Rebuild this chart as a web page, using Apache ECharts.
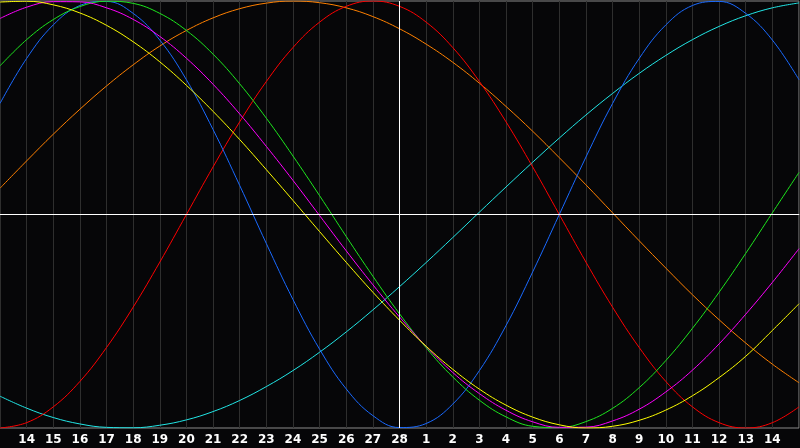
<!DOCTYPE html>
<html>
<head>
<meta charset="utf-8">
<script src="https://cdn.jsdelivr.net/npm/echarts@6/dist/echarts.min.js"></script>
<style>
html,body{margin:0;padding:0;background:#060608;}
#chart{width:800px;height:448px;}
</style>
</head>
<body>
<div id="chart"></div>
<script>
// Day labels (t = 0..30); first and last lie on the chart edges and are not shown
const days = ['13','14','15','16','17','18','19','20','21','22','23','24','25','26','27','28',
              '1','2','3','4','5','6','7','8','9','10','11','12','13','14','15'];
const todayLabelIndex = 15; // "28"

// Cycle values read at each day
const physical = [0.520,0.731,0.888,0.979,0.998,0.942,0.817,0.631,0.398,0.136,-0.136,-0.398,-0.631,-0.817,-0.942,-0.998,-0.979,-0.888,-0.731,-0.520,-0.269,0.000,0.269,0.520,0.731,0.888,0.979,0.998,0.942,0.817,0.631];
const emotional = [-1,-0.975,-0.901,-0.782,-0.623,-0.434,-0.223,0,0.223,0.434,0.623,0.782,0.901,0.975,1,0.975,0.901,0.782,0.623,0.434,0.223,0,-0.223,-0.434,-0.623,-0.782,-0.901,-0.975,-1,-0.975,-0.901];
const intellectual = [0.696,0.819,0.913,0.974,0.999,0.989,0.942,0.862,0.751,0.612,0.451,0.274,0.088,-0.103,-0.289,-0.465,-0.624,-0.761,-0.870,-0.948,-0.992,-0.998,-0.970,-0.908,-0.811,-0.684,-0.533,-0.364,-0.182,0.008,0.197];
const intuitive = [0.918,0.971,0.997,0.996,0.968,0.914,0.834,0.732,0.610,0.471,0.319,0.160,-0.005,-0.170,-0.329,-0.480,-0.618,-0.740,-0.839,-0.917,-0.971,-0.997,-0.996,-0.967,-0.912,-0.831,-0.729,-0.606,-0.467,-0.318,-0.160];
const aesthetic = [0.995,0.999,0.982,0.944,0.886,0.809,0.715,0.605,0.483,0.351,0.210,0.066,-0.080,-0.224,-0.364,-0.495,-0.617,-0.725,-0.818,-0.893,-0.949,-0.985,-1.000,-0.992,-0.964,-0.916,-0.849,-0.764,-0.664,-0.543,-0.418];
const awareness = [0.123,0.251,0.376,0.493,0.602,0.701,0.789,0.862,0.921,0.964,0.990,1.000,0.992,0.968,0.927,0.870,0.798,0.713,0.615,0.506,0.390,0.266,0.139,0.008,-0.123,-0.251,-0.376,-0.493,-0.602,-0.701,-0.788];
const spiritual = [-0.851,-0.907,-0.951,-0.981,-0.997,-0.999,-0.987,-0.962,-0.923,-0.871,-0.806,-0.731,-0.645,-0.550,-0.447,-0.338,-0.225,-0.108,0.011,0.129,0.245,0.358,0.466,0.567,0.661,0.745,0.819,0.881,0.931,0.968,0.991];

const seriesDefs = [
  {name:'Spiritual', data:spiritual, color:'#22e6e6'},
  {name:'Awareness', data:awareness, color:'#ff8000'},
  {name:'Emotional', data:emotional, color:'#ff0000'},
  {name:'Physical', data:physical, color:'#1a6aff'},
  {name:'Intellectual', data:intellectual, color:'#1ee61e'},
  {name:'Intuitive', data:intuitive, color:'#ff00ff'},
  {name:'Aesthetic', data:aesthetic, color:'#ffff00'}
];

const chart = echarts.init(document.getElementById('chart'), null, {renderer:'canvas'});
const series = seriesDefs.map((s, i) => ({
  name: s.name,
  type: 'line',
  data: s.data,
  smooth: 0.4,
  symbol: 'none',
  lineStyle: {color: s.color, width: 1},
  z: 3,
  silent: true
}));
series.push({
  type: 'line',
  data: [],
  silent: true,
  z: 2,
  markLine: {
    silent: true,
    symbol: ['none','none'],
    label: {show:false},
    lineStyle: {color:'#ffffff', width:1, type:'solid'},
    data: [{xAxis: todayLabelIndex}, {yAxis: 0}]
  }
});

chart.setOption({
  backgroundColor: '#060608',
  animation: false,
  grid: {left: 0, right: 1, top: 1, bottom: 20, show: true, borderColor: '#8a8a8a', borderWidth: 1, backgroundColor: 'transparent'},
  xAxis: {
    type: 'category',
    data: days,
    boundaryGap: false,
    axisLine: {show: true, lineStyle: {color: '#b0b0b0', width: 1}},
    axisTick: {show: false},
    splitLine: {show: true, interval: 0, lineStyle: {color: '#2e2e2e', width: 1}},
    axisLabel: {
      interval: function (idx) { return idx > 0 && idx < days.length - 1; },
      color: '#ffffff',
      fontFamily: 'DejaVu Sans',
      fontWeight: 'bold',
      fontSize: 12,
      margin: 6
    }
  },
  yAxis: {
    type: 'value',
    min: -1,
    max: 1,
    show: false,
    splitLine: {show: false}
  },
  series: series
});
</script>
</body>
</html>
